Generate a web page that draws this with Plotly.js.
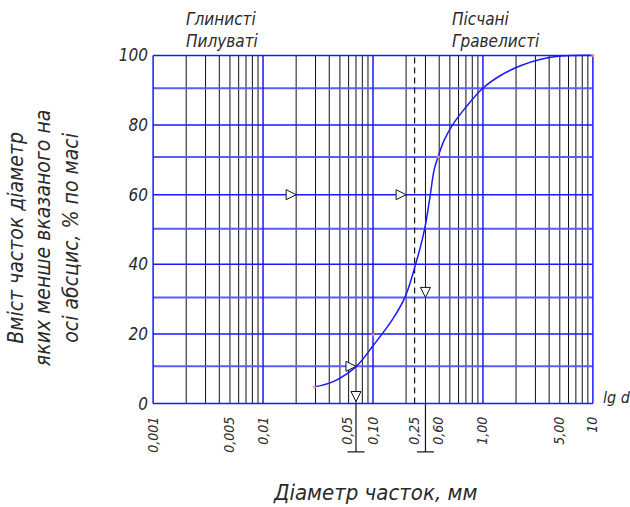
<!DOCTYPE html>
<html><head><meta charset="utf-8">
<script src="https://cdn.plot.ly/plotly-3.0.1.min.js"></script>
<style>html,body{margin:0;padding:0;background:#fff}#chart{width:630px;height:507px}</style>
</head><body><div id="chart"></div>
<script>
// Grain-size distribution: particle diameter (mm) vs % finer by mass
const diameters = [0.0295,0.044,0.0705,0.1,0.15,0.195,0.244,0.295,0.33,0.359,0.391,0.443,0.528,0.674,0.991,1.456,2.22,3.37,5.13,10];
const passing   = [4.8,6.4,10.7,16.6,24.1,30.5,40,50.2,59.4,67,70.9,75.6,80,84.5,90.5,94.3,97.1,98.9,99.8,100];
const controlD  = [0.0295,0.1,0.391,10];
const controlP  = [4.8,19.8,70.9,100];
const xTickVals = [0.001,0.005,0.01,0.058,0.1,0.238,0.391,1,4.95,10];
const xTickText = ['0,001','0,005','0,01','0,05','0,10','0,25','0,60','1,00','5,00','10'];
const yTickVals = [0,20,40,60,80,100];
const yTickText = ['0','20','40','60','80','100'];
const decades = [0.001,0.01,0.1,1,10];
const subMultipliers = [2,3,4,5,6,7,8,9];
const hMajor = [0,20,40,60,80,100];
const hMinor = [10.7,30.5,50.2,70.8,90.6];
const d10 = 0.07, d50 = 0.3, dDash = 0.239;
const rightArrowD = [0.02,0.2,0.07], rightArrowP = [60,60,10.7];
const downArrowD = [0.07,0.3], downArrowP = [0.6,30.5];
const groupLeft = 'Глинисті<br>Пилуваті';
const groupRight = 'Пісчані<br>Гравелисті';
const xTitle = 'Діаметр часток, мм';
const yTitle = 'Вміст часток діаметр<br>яких менше вказаного на<br>осі абсцис, % по масі';

const FONT = 'Liberation Sans Narrow, DejaVu Sans Condensed, Liberation Sans, sans-serif';
const BLUE = 'rgb(25,25,255)';

function vLines(xs){const x=[],y=[];xs.forEach(v=>{x.push(v,v,null);y.push(0,100,null);});return {x,y};}
function hLines(ys){const x=[],y=[];ys.forEach(v=>{x.push(decades[0],decades[decades.length-1],null);y.push(v,v,null);});return {x,y};}

const subVals=[];
decades.slice(0,-1).forEach(d=>subMultipliers.forEach(m=>subVals.push(+(d*m).toPrecision(3))));
const blk=vLines(subVals), bv=vLines(decades), hmi=hLines(hMinor), hma=hLines(hMajor), dl=vLines([dDash]);

const traces=[
 {x:blk.x,y:blk.y,mode:'lines',line:{color:'#111',width:1},hoverinfo:'skip'},
 {x:hmi.x,y:hmi.y,mode:'lines',line:{color:'rgb(90,90,255)',width:2},hoverinfo:'skip'},
 {x:hma.x,y:hma.y,mode:'lines',line:{color:BLUE,width:1.5},hoverinfo:'skip'},
 {x:bv.x,y:bv.y,mode:'lines',line:{color:BLUE,width:1.5},hoverinfo:'skip'},
 {x:dl.x,y:dl.y,mode:'lines',line:{color:'#111',width:1.2,dash:'6px,4px'},hoverinfo:'skip'},
 {x:diameters,y:passing,mode:'lines',line:{color:BLUE,width:1.5,shape:'spline',smoothing:1}},
 {x:controlD,y:controlP,mode:'markers',marker:{color:'#ff8080',size:3},cliponaxis:false},
 {x:rightArrowD,y:rightArrowP,mode:'markers',marker:{symbol:'arrow-right',size:10,color:'white',line:{color:'#111',width:1}},cliponaxis:false},
 {x:downArrowD,y:downArrowP,mode:'markers',marker:{symbol:'arrow-down',size:10,color:'white',line:{color:'#111',width:1}},cliponaxis:false}
];

// plot area geometry
const L=151.9, R=35.9, T=53.6, B=101.6, W=630-L-R, H=507-T-B;
const px=x=>(x-L)/W, py=y=>(507-B-y)/H;
const xRange=[-3.01,1.01];
const xFrac=d=>(Math.log10(d)-xRange[0])/(xRange[1]-xRange[0]);

const shapes=[];
[d10,d50].forEach(d=>{
  const f=xFrac(d);
  shapes.push({type:'line',xref:'paper',yref:'paper',x0:f,x1:f,y0:0.4/100.8,y1:-47/H,line:{color:'#111',width:1.2}});
  shapes.push({type:'line',xref:'paper',yref:'paper',x0:f-8.5/W,x1:f+8.5/W,y0:-47/H,y1:-47/H,line:{color:'#111',width:1.2}});
});

const tf={family:FONT,style:'italic',color:'#2a2a2a'};
const layout={
 width:630,height:507,showlegend:false,
 paper_bgcolor:'white',plot_bgcolor:'white',
 margin:{l:L,r:R,t:T,b:B},
 xaxis:{type:'log',range:xRange,showgrid:false,zeroline:false,showline:false,ticks:'',
   tickmode:'array',tickvals:xTickVals,ticktext:xTickText,tickangle:-90,ticklabelstandoff:8,
   tickfont:Object.assign({size:14},tf)},
 yaxis:{range:[-0.4,100.4],showgrid:false,zeroline:false,showline:false,ticks:'',
   tickmode:'array',tickvals:yTickVals,ticktext:yTickText,ticklabelstandoff:3,
   tickfont:Object.assign({size:17},tf)},
 shapes:shapes,
 annotations:[
  {text:groupLeft,xref:'paper',yref:'paper',x:px(184),y:py(6),xanchor:'left',yanchor:'top',align:'left',showarrow:false,font:Object.assign({size:17},tf)},
  {text:groupRight,xref:'paper',yref:'paper',x:px(450),y:py(6),xanchor:'left',yanchor:'top',align:'left',showarrow:false,font:Object.assign({size:17},tf)},
  {text:'lg d',xref:'paper',yref:'paper',x:px(601),y:py(398),xanchor:'left',yanchor:'middle',showarrow:false,font:Object.assign({size:16},tf)},
  {text:xTitle,xref:'paper',yref:'paper',x:px(375),y:py(493),xanchor:'center',yanchor:'middle',showarrow:false,font:Object.assign({size:22},tf)},
  {text:yTitle,xref:'paper',yref:'paper',x:px(44),y:py(238),xanchor:'center',yanchor:'middle',textangle:-90,showarrow:false,font:Object.assign({size:21},tf)}
 ]
};
Plotly.newPlot('chart',traces,layout,{staticPlot:true,displayModeBar:false});
</script></body></html>
